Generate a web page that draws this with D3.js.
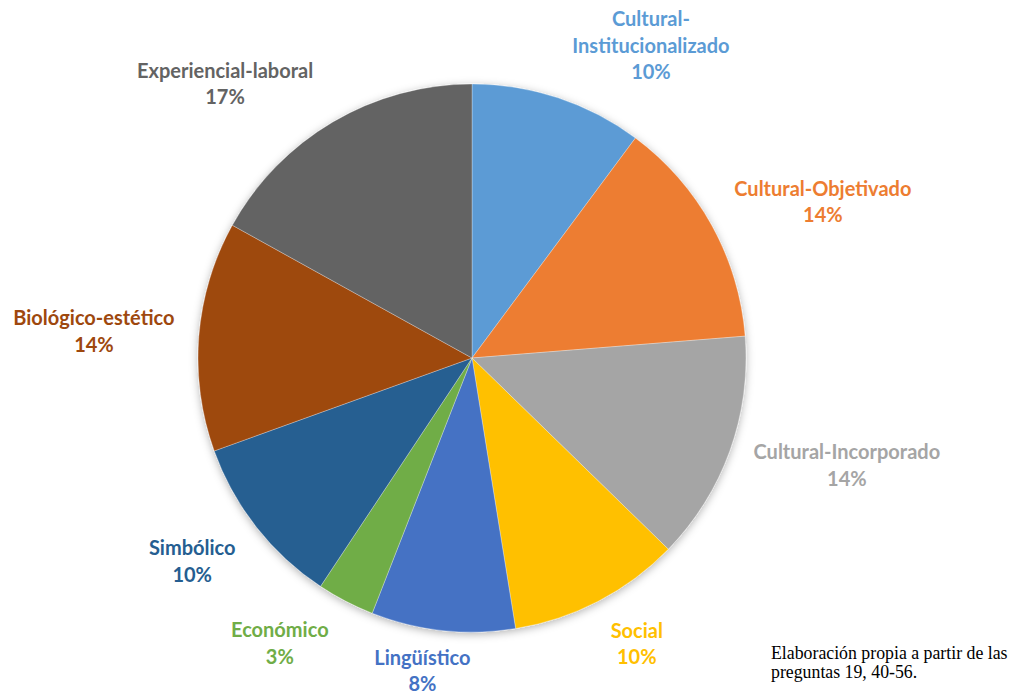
<!DOCTYPE html>
<html>
<head>
<meta charset="utf-8">
<script src="https://cdn.jsdelivr.net/npm/d3@7"></script>
<style>
  html, body { margin: 0; padding: 0; background: #fff; }
  svg { display: block; }
</style>
</head>
<body>
<svg id="chart" width="1011" height="695"></svg>
<script>
// Capital types named by respondents (counts), clockwise from 12 o'clock
const categories = [
  "Cultural-Institucionalizado",
  "Cultural-Objetivado",
  "Cultural-Incorporado",
  "Social",
  "Lingüístico",
  "Económico",
  "Simbólico",
  "Biológico-estético",
  "Experiencial-laboral"
];
const counts = [12, 16, 16, 12, 10, 4, 12, 16, 20];
const colors = ["#5B9BD5", "#ED7D31", "#A5A5A5", "#FFC000", "#4472C4",
                "#70AD47", "#255E91", "#9E480E", "#636363"];
// Label lines for each category (hyphenated name wraps on the first one)
const labelLines = [
  ["Cultural-", "Institucionalizado"],
  ["Cultural-Objetivado"],
  ["Cultural-Incorporado"],
  ["Social"],
  ["Lingüístico"],
  ["Económico"],
  ["Simbólico"],
  ["Biológico-estético"],
  ["Experiencial-laboral"]
];
const noteLines = ["Elaboración propia a partir de las", "preguntas 19, 40-56."];

// Layout
const cx = 472, cy = 358, radius = 274;
// label placement: angular shift (deg) from slice mid-angle and distance from centre
const labelShift = [11.5, 5, -3.8, -2.5, 2.9, 6.5, 2.1, -0.6, -11.5];
const labelDist  = [360, 384, 390, 330, 317, 344, 346, 379, 369];
const lineH = 26.5;

const svg = d3.select("#chart");
const defs = svg.append("defs");
const f = defs.append("filter").attr("id", "pieShadow")
  .attr("x", "-20%").attr("y", "-20%").attr("width", "140%").attr("height", "140%");
f.append("feDropShadow").attr("dx", 0).attr("dy", 2).attr("stdDeviation", 4)
  .attr("flood-color", "#000").attr("flood-opacity", 0.3);

const data = categories.map((c, i) => ({ name: c, value: counts[i], color: colors[i], i }));
const total = d3.sum(counts);

const pie = d3.pie().value(d => d.value).sort(null);
const arc = d3.arc().innerRadius(0).outerRadius(radius);
const arcs = pie(data);

const g = svg.append("g").attr("transform", `translate(${cx},${cy})`);
const slices = g.append("g").attr("filter", "url(#pieShadow)");
slices.selectAll("path").data(arcs).join("path")
  .attr("d", arc)
  .attr("fill", d => d.data.color)
  .attr("stroke", "#ffffff")
  .attr("stroke-width", 0.3);

// Data labels: category name + rounded share
const pct = d3.format(".0%");
const labels = g.append("g")
  .style("font-family", "Lato, 'Open Sans', sans-serif")
  .style("font-weight", "700")
  .style("font-size", "20px");

arcs.forEach((a, k) => {
  const mid = (a.startAngle + a.endAngle) / 2 + labelShift[k] * Math.PI / 180;
  const lx = Math.sin(mid) * labelDist[k];
  const ly = -Math.cos(mid) * labelDist[k];
  const lines = labelLines[k].concat([pct(a.data.value / total)]);
  const t = labels.append("text")
    .attr("text-anchor", "middle")
    .attr("fill", a.data.color)
    .attr("x", lx)
    .attr("y", ly - (lines.length - 1) * lineH / 2);
  lines.forEach((s, j) => {
    t.append("tspan").attr("x", lx).attr("dy", j === 0 ? "0.35em" : lineH).text(s);
  });
});

// Source note
const note = svg.append("text")
  .attr("x", 771).attr("y", 659)
  .style("font-family", "'Liberation Serif', 'Times New Roman', serif")
  .style("font-size", "17.8px")
  .attr("fill", "#000");
noteLines.forEach((s, j) => {
  note.append("tspan").attr("x", 771).attr("dy", j === 0 ? 0 : 19).text(s);
});
</script>
</body>
</html>
